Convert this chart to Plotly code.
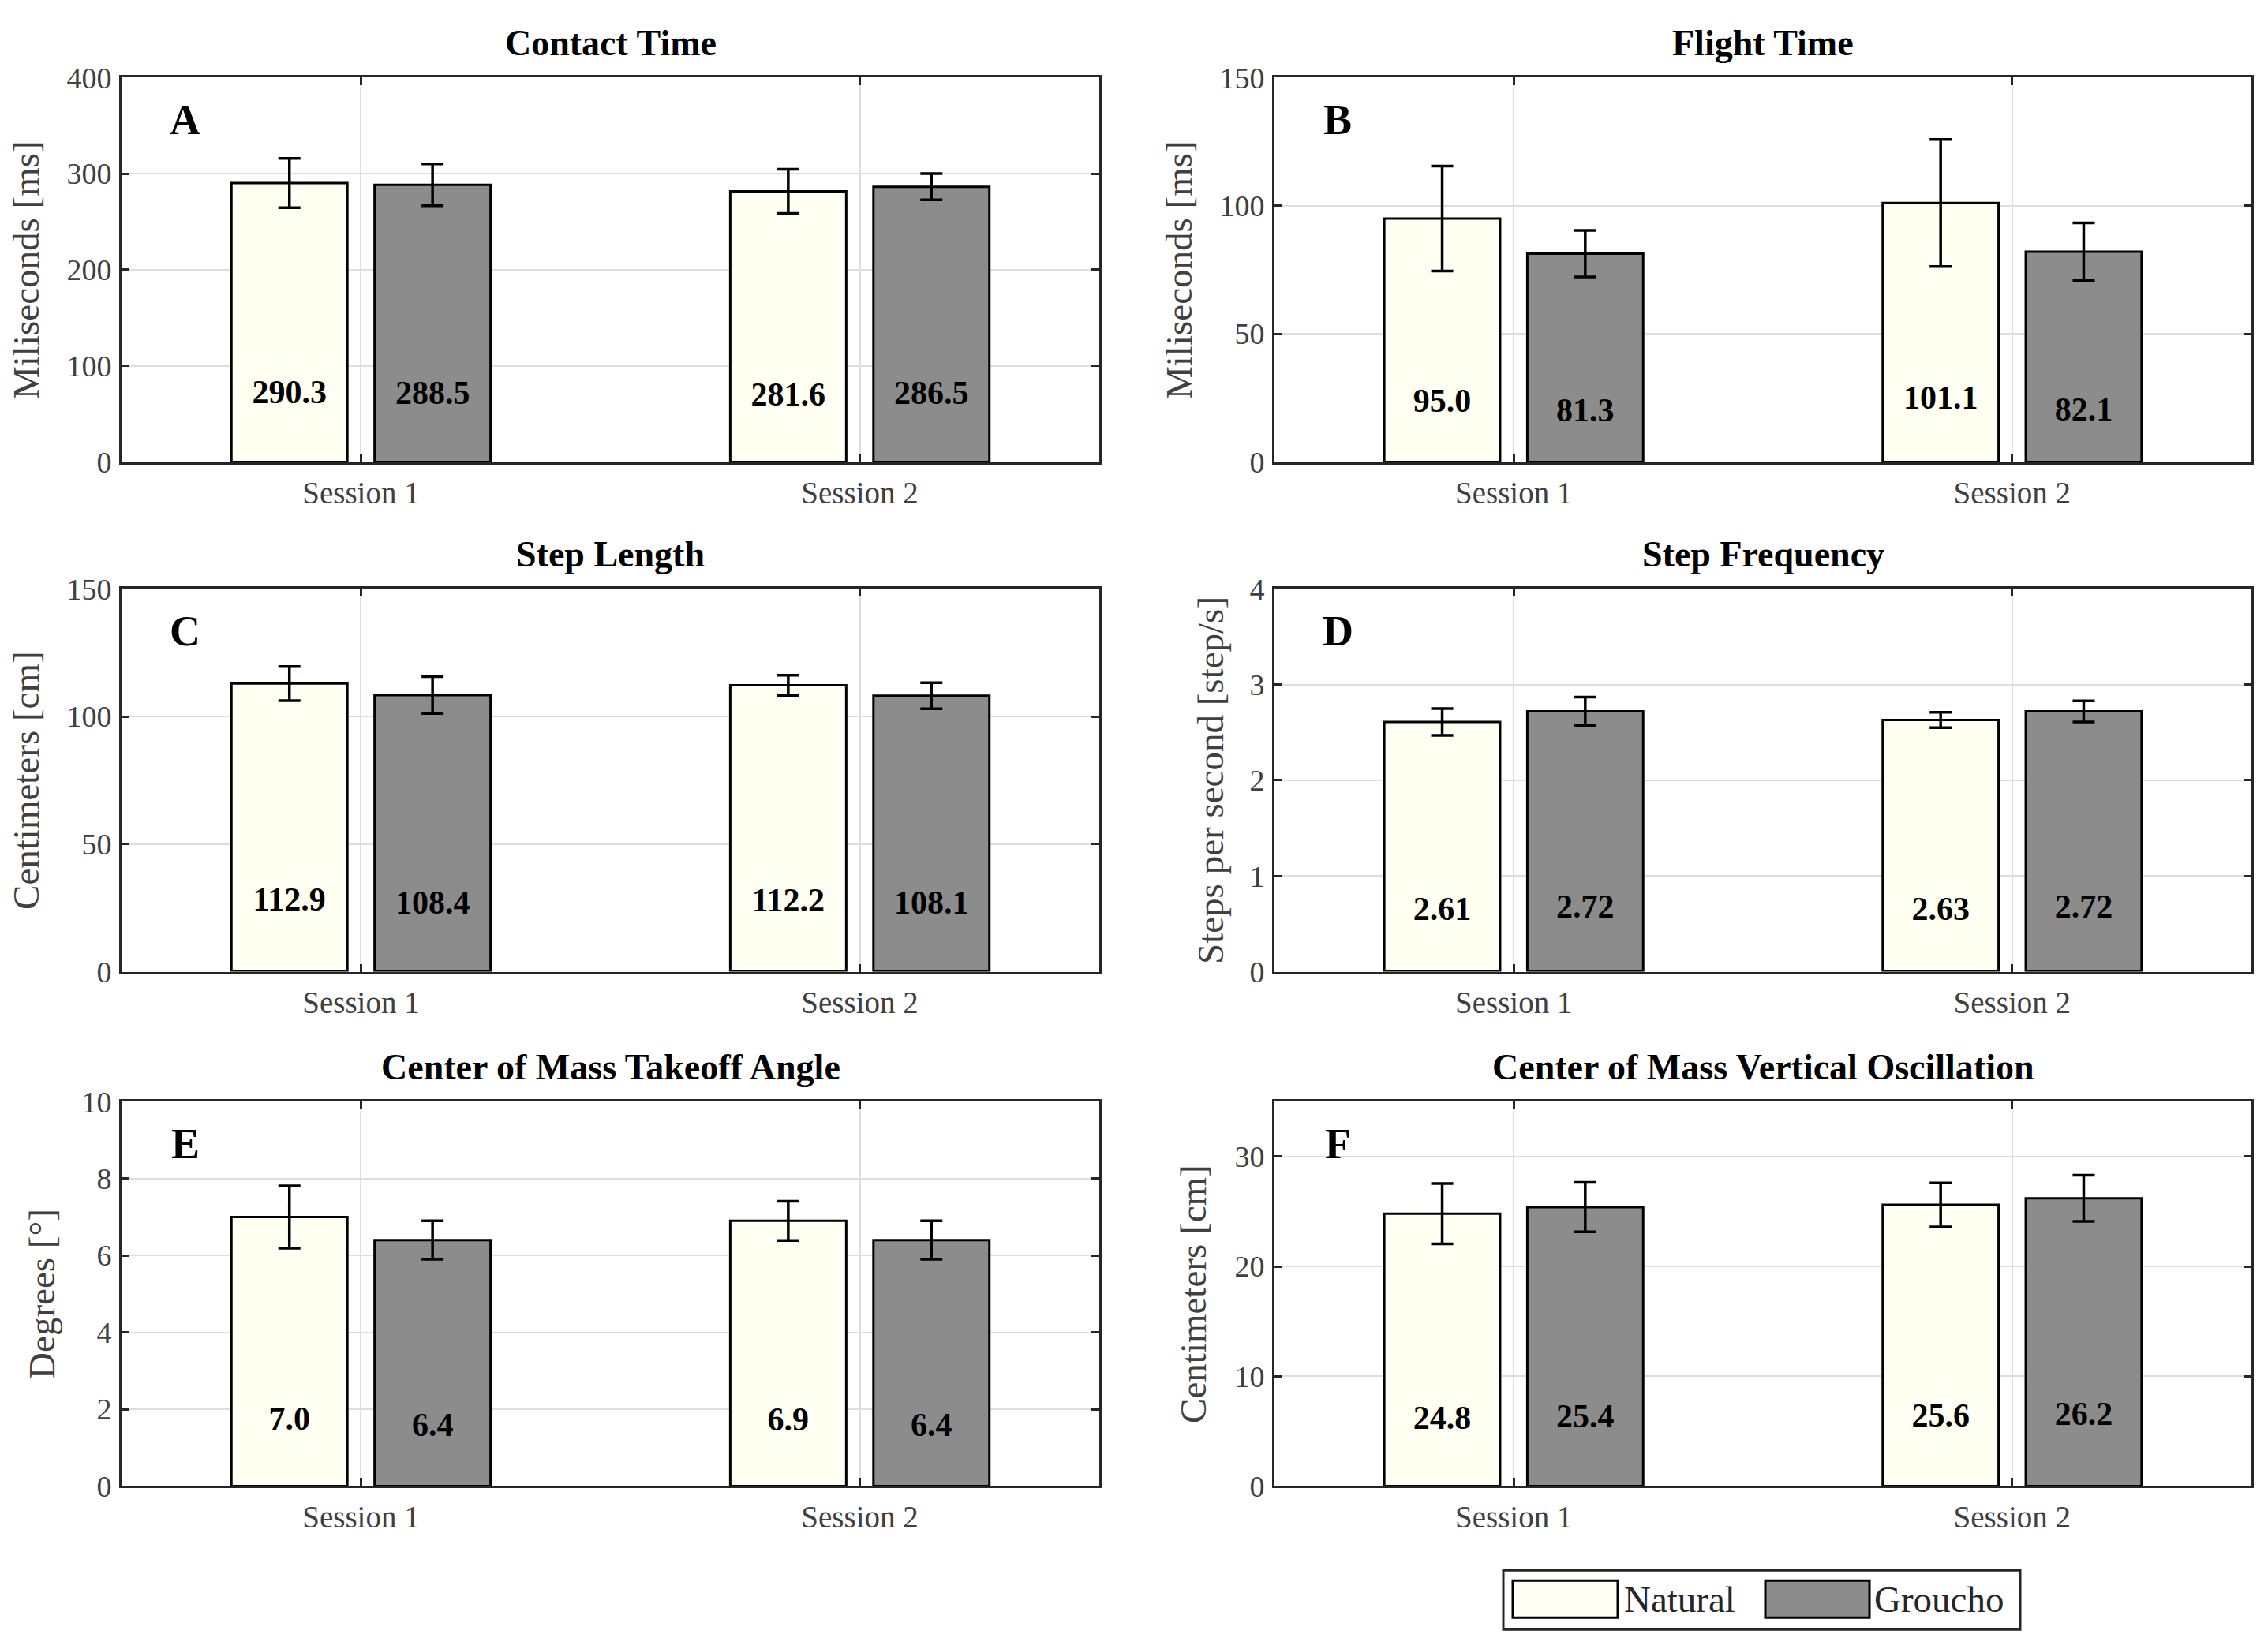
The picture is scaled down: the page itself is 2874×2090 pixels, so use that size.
import plotly.graph_objects as go

# ---------------- data ----------------
sessions = ["Session 1", "Session 2"]
series_names = ["Natural", "Groucho"]

contact_nat = [290.3, 281.6]
contact_nat_sd = [25.7, 23.0]
contact_gro = [288.5, 286.5]
contact_gro_sd = [21.8, 13.7]

flight_nat = [95.0, 101.1]
flight_nat_sd = [20.5, 24.8]
flight_gro = [81.3, 82.1]
flight_gro_sd = [9.1, 11.2]

steplen_nat = [112.9, 112.2]
steplen_nat_sd = [6.7, 4.0]
steplen_gro = [108.4, 108.1]
steplen_gro_sd = [7.2, 5.1]

stepfreq_nat = [2.61, 2.63]
stepfreq_nat_sd = [0.14, 0.08]
stepfreq_gro = [2.72, 2.72]
stepfreq_gro_sd = [0.15, 0.11]

angle_nat = [7.0, 6.9]
angle_nat_sd = [0.81, 0.51]
angle_gro = [6.4, 6.4]
angle_gro_sd = [0.50, 0.50]

osc_nat = [24.8, 25.6]
osc_nat_sd = [2.74, 2.0]
osc_gro = [25.4, 26.2]
osc_gro_sd = [2.26, 2.1]

titles = ["Contact Time", "Flight Time", "Step Length", "Step Frequency",
          "Center of Mass Takeoff Angle", "Center of Mass Vertical Oscillation"]
ylabels = ["Miliseconds [ms]", "Miliseconds [ms]", "Centimeters [cm]",
           "Steps per second [step/s]", "Degrees [°]", "Centimeters [cm]"]
letters = ["A", "B", "C", "D", "E", "F"]
y_ranges = [[0, 400], [0, 150], [0, 150], [0, 4], [0, 10], [0, 35]]
y_dticks = [100, 50, 50, 1, 2, 10]
decimals = [1, 1, 1, 2, 1, 1]

nat_vals = [contact_nat, flight_nat, steplen_nat, stepfreq_nat, angle_nat, osc_nat]
nat_sds = [contact_nat_sd, flight_nat_sd, steplen_nat_sd, stepfreq_nat_sd, angle_nat_sd, osc_nat_sd]
gro_vals = [contact_gro, flight_gro, steplen_gro, stepfreq_gro, angle_gro, osc_gro]
gro_sds = [contact_gro_sd, flight_gro_sd, steplen_gro_sd, stepfreq_gro_sd, angle_gro_sd, osc_gro_sd]

# ---------------- style / layout ----------------
W, H = 2874, 2090
FONT = "Liberation Serif"
AX = "#262626"
TICKC = "#404040"
GRID = "#DEDEDE"
NAT_C = "#FFFFF2"
GRO_C = "#8C8C8C"


def px_x(p):
    # page pixel (reference frame) -> paper x
    return (p - 8) / W


def px_y(p):
    # page pixel (reference frame) -> paper y
    return 1 - ((p - 27.5) / 0.9815) / H


col_px = [(154, 1393), (1615, 2853)]
row_px = [(97, 585), (746, 1232), (1397, 1885)]
title_y_px = [53, 702, 1353]
ylabel_off_px = [121, 121, 121, 81, 101, 103]

fig = go.Figure()
annotations = []
shapes = []

for i in range(6):
    r, c = divmod(i, 2)
    n = i + 1
    xa = "x" if n == 1 else f"x{n}"
    ya = "y" if n == 1 else f"y{n}"
    fmt = "{:.%df}" % decimals[i]

    for name, vals, sds, color, grp in [
        (series_names[0], nat_vals[i], nat_sds[i], NAT_C, "nat"),
        (series_names[1], gro_vals[i], gro_sds[i], GRO_C, "gro"),
    ]:
        fig.add_trace(go.Bar(
            x=sessions, y=vals, name=name, offsetgroup=grp,
            xaxis=xa, yaxis=ya, showlegend=False,
            marker=dict(color=color, line=dict(color="black", width=3)),
            error_y=dict(type="data", array=sds, visible=True,
                         color="black", thickness=3.5, width=14),
            hoverinfo="x+y",
        ))
    # value labels placed at a quarter of each bar's height
    for vals, grp in [(nat_vals[i], "nat"), (gro_vals[i], "gro")]:
        fig.add_trace(go.Bar(
            x=sessions, y=[v / 2 for v in vals], offsetgroup=grp,
            xaxis=xa, yaxis=ya, showlegend=False, hoverinfo="skip",
            marker=dict(color="rgba(0,0,0,0)", line=dict(width=0)),
            text=[fmt.format(v) for v in vals],
            textposition="inside", insidetextanchor="middle",
            textangle=0, constraintext="none",
            insidetextfont=dict(family=FONT, size=42, color="black", weight="bold"),
            textfont=dict(family=FONT, size=42, color="black", weight="bold"),
        ))

    x0, x1 = col_px[c]
    y0, y1 = row_px[r]
    xdom = [px_x(x0), px_x(x1)]
    ydom = [px_y(y1), px_y(y0)]

    xkey = "xaxis" if n == 1 else f"xaxis{n}"
    ykey = "yaxis" if n == 1 else f"yaxis{n}"
    fig.update_layout(**{
        xkey: dict(
            domain=xdom, anchor=ya, type="category", range=[-0.48, 1.48],
            showline=True, linecolor=AX, linewidth=3, mirror="ticks",
            ticks="inside", ticklen=10, tickwidth=3, tickcolor=AX,
            showgrid=True, gridcolor=GRID, gridwidth=2, zeroline=False,
            tickfont=dict(family=FONT, size=39, color=TICKC),
            ticklabelstandoff=3,
        ),
        ykey: dict(
            domain=ydom, anchor=xa, range=y_ranges[i], dtick=y_dticks[i],
            tick0=0,
            showline=True, linecolor=AX, linewidth=3, mirror="ticks",
            ticks="inside", ticklen=10, tickwidth=3, tickcolor=AX,
            showgrid=True, gridcolor=GRID, gridwidth=2, zeroline=False,
            tickfont=dict(family=FONT, size=38, color=TICKC),
            ticklabelstandoff=2,
        ),
    })

    # subplot title
    annotations.append(dict(
        text=f"<b>{titles[i]}</b>", xref="paper", yref="paper",
        x=px_x((x0 + x1) / 2), y=px_y(title_y_px[r]),
        xanchor="center", yanchor="middle", showarrow=False,
        font=dict(family=FONT, size=46, color="black"),
    ))
    # y-axis label
    annotations.append(dict(
        text=ylabels[i], xref="paper", yref="paper", textangle=-90,
        x=px_x(x0 - ylabel_off_px[i]), y=px_y((y0 + y1) / 2),
        xanchor="center", yanchor="middle", showarrow=False,
        font=dict(family=FONT, size=47, color=TICKC),
    ))
    # panel letter
    annotations.append(dict(
        text=f"<b>{letters[i]}</b>", xref=f"{xa} domain", yref=f"{ya} domain",
        x=0.065, y=0.889, xanchor="center", yanchor="middle", showarrow=False,
        font=dict(family=FONT, size=54, color="black"),
    ))

# ---------------- custom legend ----------------
def pr(xa_, ya_, xb_, yb_):
    return dict(x0=px_x(xa_), x1=px_x(xb_), y0=px_y(yb_), y1=px_y(ya_))


shapes.append(dict(type="rect", xref="paper", yref="paper",
                   line=dict(color=AX, width=3), fillcolor="white",
                   **pr(1905, 1992, 2560, 2067)))
shapes.append(dict(type="rect", xref="paper", yref="paper",
                   line=dict(color="black", width=3), fillcolor=NAT_C,
                   **pr(1917, 2005, 2050, 2052)))
shapes.append(dict(type="rect", xref="paper", yref="paper",
                   line=dict(color="black", width=3), fillcolor=GRO_C,
                   **pr(2237, 2005, 2369, 2052)))
annotations.append(dict(text=series_names[0], xref="paper", yref="paper",
                        x=px_x(2056), y=px_y(2029), xanchor="left", yanchor="middle",
                        showarrow=False, font=dict(family=FONT, size=47, color=AX)))
annotations.append(dict(text=series_names[1], xref="paper", yref="paper",
                        x=px_x(2373), y=px_y(2029), xanchor="left", yanchor="middle",
                        showarrow=False, font=dict(family=FONT, size=47, color=AX)))

fig.update_layout(
    width=W, height=H,
    margin=dict(l=0, r=0, t=0, b=0),
    paper_bgcolor="white", plot_bgcolor="white",
    barmode="group", bargap=0.426, bargroupgap=0.19,
    showlegend=False,
    annotations=annotations, shapes=shapes,
    font=dict(family=FONT),
)

fig.write_html("out.html")
